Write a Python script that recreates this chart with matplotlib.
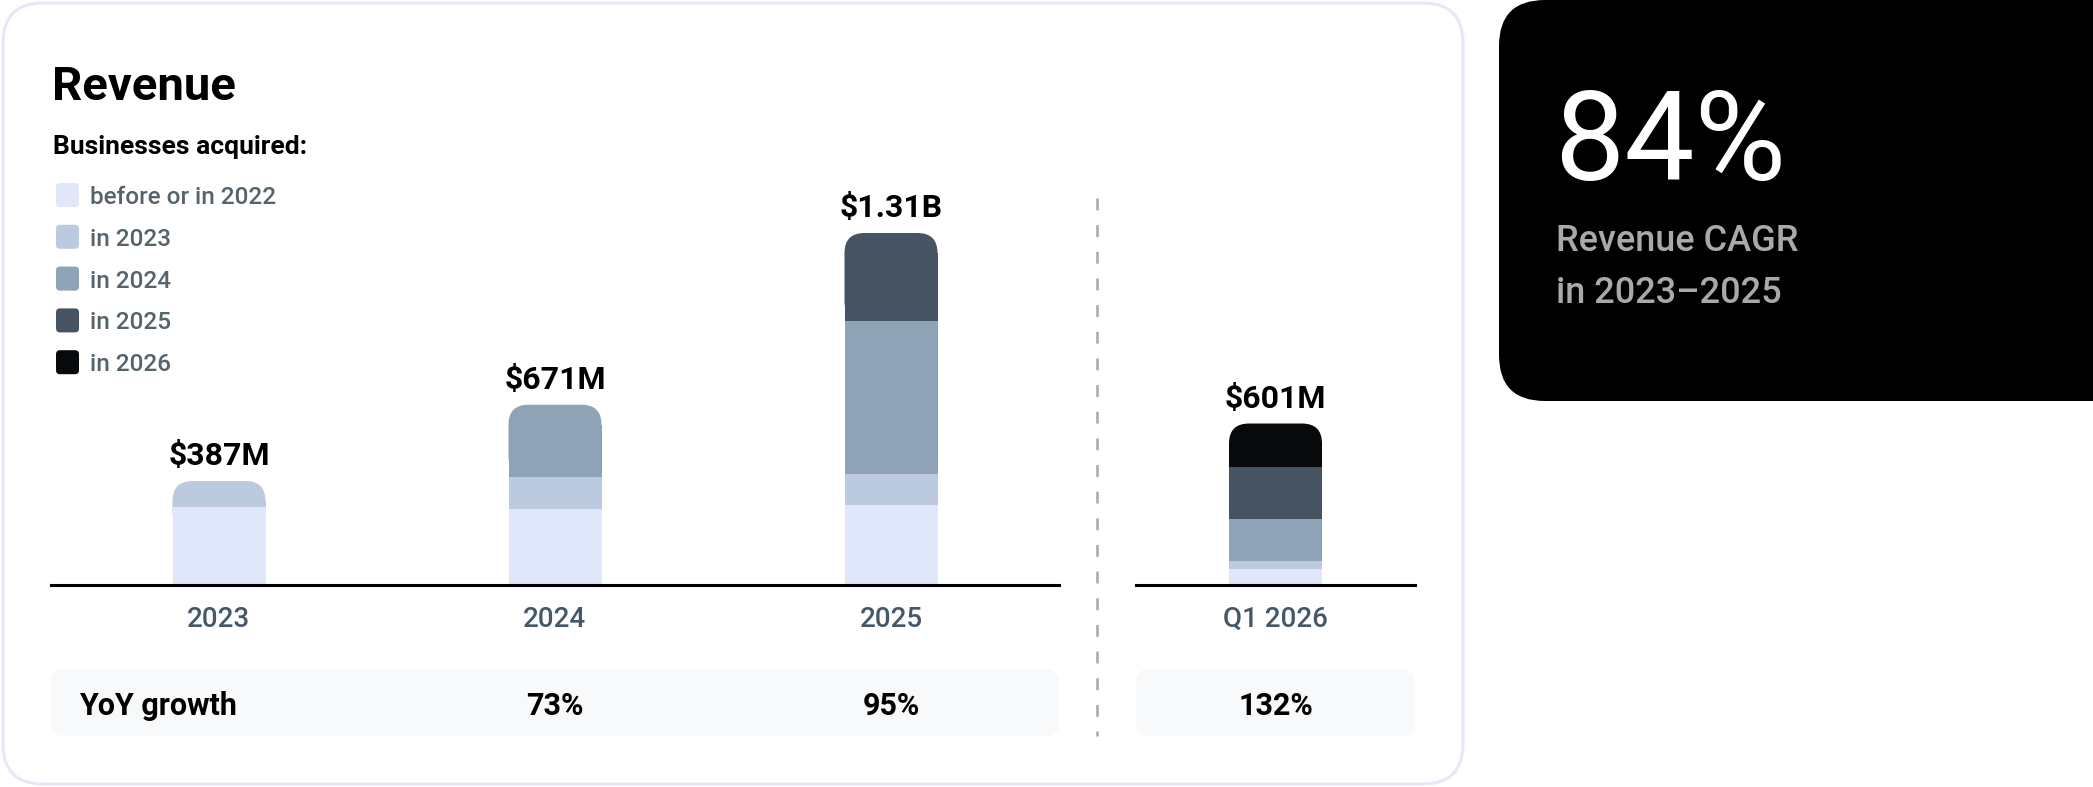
import numpy as np
import matplotlib.pyplot as plt
import matplotlib.transforms as mtransforms
from matplotlib.patches import FancyBboxPatch

plt.rcParams['font.family'] = ['Roboto', 'DejaVu Sans']

W, H, DPI = 2093, 787, 100

# ---- data (USD millions, by cohort of acquired businesses) ----
cohorts = ['before or in 2022', 'in 2023', 'in 2024', 'in 2025', 'in 2026']
cohort_colors = ['#E1E7FB', '#BCCADF', '#8FA3B6', '#465462', '#08090B']

years = ['2023', '2024', '2025']
rev_pre2022 = [292, 284, 298]
rev_2023 = [95, 119, 115]
rev_2024 = [0, 268, 569]
rev_2025 = [0, 0, 328]
rev_2026 = [0, 0, 0]
year_totals = ['$387M', '$671M', '$1.31B']
year_yoy = ['', '73%', '95%']

q1_labels = ['Q1 2026']
q1_segments = [60, 30, 156, 193, 162]
q1_totals = ['$601M']
q1_yoy = ['132%']

cagr_value = '84%'
cagr_lines = ['Revenue CAGR', 'in 2023\u20132025']

fig = plt.figure(figsize=(W / DPI, H / DPI), dpi=DPI)

# background layer in pixel coordinates (y measured from the top)
bg = fig.add_axes([0, 0, 1, 1], zorder=0)
bg.set_xlim(0, W)
bg.set_ylim(H, 0)
bg.axis('off')

bg.add_patch(FancyBboxPatch((3, 3), 1460, 781, boxstyle='round,pad=0,rounding_size=40',
                            fc='white', ec='#E4E9FA', lw=2.2))
bg.add_patch(FancyBboxPatch((1499, 0), 1592, 401, boxstyle='round,pad=0,rounding_size=46',
                            fc='black', ec='none'))
bg.add_patch(FancyBboxPatch((51, 669), 1008, 67, boxstyle='round,pad=0,rounding_size=14',
                            fc='#F8F9FB', ec='none'))
bg.add_patch(FancyBboxPatch((1136, 669), 279, 67, boxstyle='round,pad=0,rounding_size=14',
                            fc='#F8F9FB', ec='none'))
bg.plot([1097, 1097], [198, 736], color='#A6AEAE', lw=1.9, linestyle=(0, (4.5, 5.6)))

# titles and legend
bg.text(52, 100, 'Revenue', fontsize=34, fontweight='bold', color='black', va='baseline')
bg.text(53, 154, 'Businesses acquired:', fontsize=19, fontweight='bold', color='black', va='baseline')
for i, (name, col) in enumerate(zip(cohorts, cohort_colors)):
    yc = 195 + i * 41.8
    bg.add_patch(FancyBboxPatch((56, yc - 12), 23, 24, boxstyle='round,pad=0,rounding_size=4',
                                fc=col, ec='none'))
    bg.text(90, yc + 9, name, fontsize=17.5, fontweight='medium', color='#56636A', va='baseline')

# CAGR card
bg.text(1554, 180, cagr_value, fontsize=90, fontweight='normal', color='white', va='baseline')
for k, line in enumerate(cagr_lines):
    bg.text(1556, 251 + k * 52, line, fontsize=26, fontweight='medium', color='#A9A9A9',
            va='baseline')

bg.text(79, 715, 'YoY growth', fontsize=22, fontweight='bold', color='black', va='baseline')

# bar axes
base_y = 585
px_per_m = 0.2687
ax_h = 400
ylim_top = ax_h / px_per_m


def make_axes(left, width, n):
    ax = fig.add_axes([left / W, (H - base_y) / H, width / W, ax_h / H], zorder=2)
    ax.patch.set_alpha(0)
    ax.set_xlim(-0.5, n - 0.5)
    ax.set_ylim(0, ylim_top)
    for s in ['left', 'right', 'top']:
        ax.spines[s].set_visible(False)
    ax.spines['bottom'].set_linewidth(2.2)
    ax.spines['bottom'].set_color('black')
    ax.spines['bottom'].set_zorder(5)
    ax.set_yticks([])
    ax.tick_params(axis='x', length=0, pad=15, labelsize=20, labelcolor='#45586A')
    return ax


def stacked(ax, labels, segs, totals, yoy, bar_px=93, r_px=20):
    pxx = ax.transData.transform((1, 0))[0] - ax.transData.transform((0, 0))[0]
    pxy = ax.transData.transform((0, 1))[1] - ax.transData.transform((0, 0))[1]
    w = bar_px / pxx
    rx, ry = r_px / pxx, r_px / pxy
    x = np.arange(len(labels))
    tr = mtransforms.blended_transform_factory(ax.transData, bg.transData)
    for i in x:
        vals = [s[i] for s in segs]
        top = max(k for k, v in enumerate(vals) if v > 0)
        total = sum(vals)
        # rounded cap for the top segment, drawn underneath the stacked segments
        cap_h = max(vals[top], 2.5 * ry)
        ax.add_patch(FancyBboxPatch((i - w / 2, total - cap_h), w, cap_h,
                                    boxstyle=f'round,pad=0,rounding_size={rx}',
                                    mutation_aspect=ry / rx,
                                    fc=cohort_colors[top], ec='none', zorder=1))
        bottom = 0
        for k, v in enumerate(vals):
            if v <= 0:
                continue
            h = v - ry if k == top else v
            ax.bar(i, h, bottom=bottom, width=w, color=cohort_colors[k], lw=0, zorder=2)
            bottom += v
        ax.annotate(totals[i], (i, total), xytext=(0, 11.5), textcoords='offset points',
                    ha='center', va='baseline', fontsize=23, fontweight='bold')
        if yoy[i]:
            ax.text(i, 715, yoy[i], transform=tr, ha='center', va='baseline',
                    fontsize=22, fontweight='bold')
    ax.set_xticks(x, labels)
    for t in ax.get_xticklabels():
        t.set_fontweight('medium')


ax1 = make_axes(51, 1008, len(years))
stacked(ax1, years, [rev_pre2022, rev_2023, rev_2024, rev_2025, rev_2026],
        year_totals, year_yoy)

ax2 = make_axes(1136, 279, len(q1_labels))
stacked(ax2, q1_labels, [[v] for v in q1_segments], q1_totals, q1_yoy)

fig.savefig('out.png', dpi=DPI)
